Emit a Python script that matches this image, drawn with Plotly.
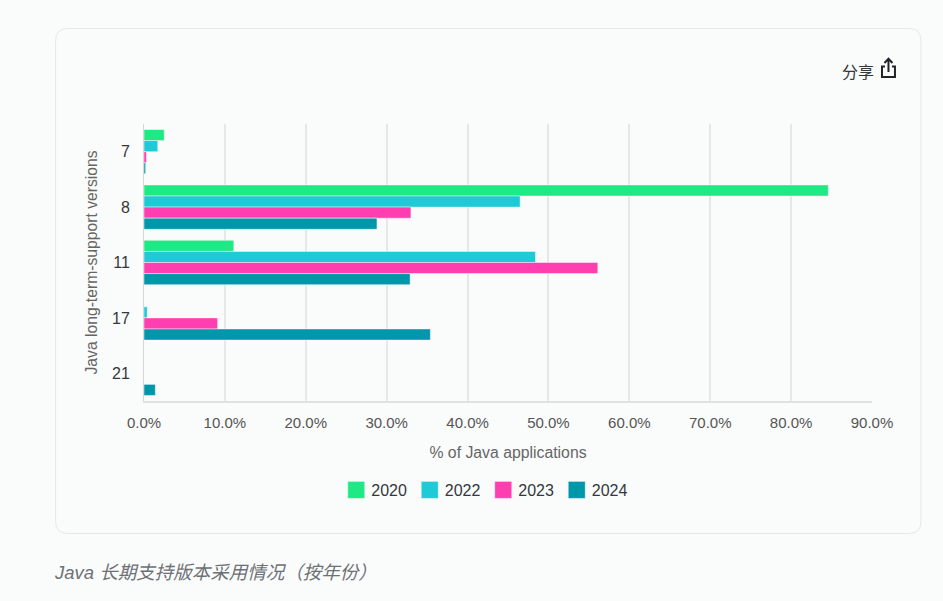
import plotly.graph_objects as go

versions = ["7", "8", "11", "17", "21"]
v2020 = [2.5, 84.6, 11.1, None, None]
v2022 = [1.7, 46.5, 48.4, 0.4, None]
v2023 = [0.3, 33.0, 56.1, 9.1, None]
v2024 = [0.2, 28.8, 32.9, 35.4, 1.4]
years = ["2020", "2022", "2023", "2024"]
colors = ["#1fe984", "#1dcad5", "#ff3fb0", "#0097ab"]
x_ticks = [0, 10, 20, 30, 40, 50, 60, 70, 80, 90]

W, H = 943, 601
L, R, T, B = 143.5, 872.5, 124, 401
FONT = "Liberation Sans, Noto Sans CJK SC, sans-serif"
BG = "#fafbfb"


def px(x):
    return (x - L) / (R - L)


def py(y):
    return (B - y) / (B - T)


def pth(points):
    return " ".join(f"{c}{px(x):.5f},{py(y):.5f}" for c, x, y in points)


fig = go.Figure()
for name, vals, col in zip(years, [v2020, v2022, v2023, v2024], colors):
    fig.add_trace(go.Bar(
        name=name, y=versions, x=vals, orientation="h",
        marker=dict(color=col, line=dict(color="rgba(255,255,255,0.45)", width=1)),
        hovertemplate="%{y}: %{x:.1f}%<extra>" + name + "</extra>",
    ))

a, b, c, d, r = 55.0, 921.5, 28.5, 533.5, 12
shapes = [
    # card outline with rounded corners
    dict(type="path", xref="paper", yref="paper", layer="below",
         path=f"M{px(a+r):.5f},{py(c):.5f} L{px(b-r):.5f},{py(c):.5f} "
              f"Q{px(b):.5f},{py(c):.5f} {px(b):.5f},{py(c+r):.5f} "
              f"L{px(b):.5f},{py(d-r):.5f} "
              f"Q{px(b):.5f},{py(d):.5f} {px(b-r):.5f},{py(d):.5f} "
              f"L{px(a+r):.5f},{py(d):.5f} "
              f"Q{px(a):.5f},{py(d):.5f} {px(a):.5f},{py(d-r):.5f} "
              f"L{px(a):.5f},{py(c+r):.5f} "
              f"Q{px(a):.5f},{py(c):.5f} {px(a+r):.5f},{py(c):.5f} Z",
         line=dict(color="#e6e8e8", width=1), fillcolor=BG),
    # share icon: tray and arrow
    dict(type="path", xref="paper", yref="paper",
         path=pth([("M", 885.5, 66.5), ("L", 882.5, 66.5), ("L", 882.5, 77), ("L", 895.5, 77),
                   ("L", 895.5, 66.5), ("L", 892.5, 66.5)]),
         line=dict(color="#20252b", width=2)),
    dict(type="path", xref="paper", yref="paper",
         path=pth([("M", 889, 72), ("L", 889, 59), ("M", 885, 63), ("L", 889, 58.8),
                   ("L", 893, 63)]),
         line=dict(color="#20252b", width=2)),
]

annotations = [
    dict(text="分享", xref="paper", yref="paper", x=px(858), y=py(71), showarrow=False,
         font=dict(size=16, color="#33383d", family="Noto Sans CJK SC"), xanchor="center", yanchor="middle"),
    dict(text="<i>Java 长期支持版本采用情况（按年份）</i>", xref="paper", yref="paper", x=px(51.5), y=py(572),
         showarrow=False, font=dict(size=18.5, color="#6d7175", family=FONT), xanchor="left", yanchor="middle"),
]

fig.update_layout(
    width=W, height=H,
    margin=dict(l=L, r=W - R, t=T, b=H - B, pad=0),
    paper_bgcolor=BG, plot_bgcolor="rgba(0,0,0,0)",
    barmode="group", bargap=0.2, bargroupgap=0,
    font=dict(family=FONT, size=15, color="#444"),
    shapes=shapes, annotations=annotations, showlegend=True,
    legend=dict(orientation="h", xanchor="left", yanchor="middle", x=px(331), y=py(490),
                entrywidth=28.5, entrywidthmode="pixels",
                font=dict(size=16, color="#33383d"), bgcolor="rgba(0,0,0,0)", traceorder="normal"),
    xaxis=dict(range=[0, 90], tickvals=x_ticks, ticktext=[f"{t:.1f}%" for t in x_ticks],
               side="bottom", showgrid=True, gridcolor="#e6e8e8", gridwidth=1.5, zeroline=False,
               showline=True, linecolor="#e0e2e2", linewidth=1.5, ticks="", ticklen=0, ticklabelstandoff=7,
               title=dict(text="% of Java applications", font=dict(size=15.8, color="#666"), standoff=17),
               tickfont=dict(size=15, color="#555")),
    yaxis=dict(categoryorder="array", categoryarray=versions, autorange="reversed", type="category",
               showgrid=False, zeroline=False, showline=True, linecolor="#d4d6d6", linewidth=1, ticks="",
               title=dict(text="Java long-term-support versions", font=dict(size=15.7, color="#666"), standoff=10),
               tickfont=dict(size=16, color="#33383d"), ticklabelstandoff=10),
)

# Enlarges the legend's own swatches to the reference's 17px squares and lets
# the last label extend past the narrowed legend box.
post = (f"document.body.style.margin='0';document.body.style.background='{BG}';"
        "document.body.style.overflow='hidden';"
        "document.querySelectorAll('.legend .legendpoints path').forEach(function(p){"
        "p.setAttribute('d','M13.5,8.5H-3.5V-8.5H13.5Z');});"
        "document.querySelectorAll('.legend, .legend .scrollbox').forEach(function(g){"
        "g.removeAttribute('clip-path');g.style.clipPath='none';});")

fig.write_html("out.html", config=dict(displayModeBar=False), post_script=post)
